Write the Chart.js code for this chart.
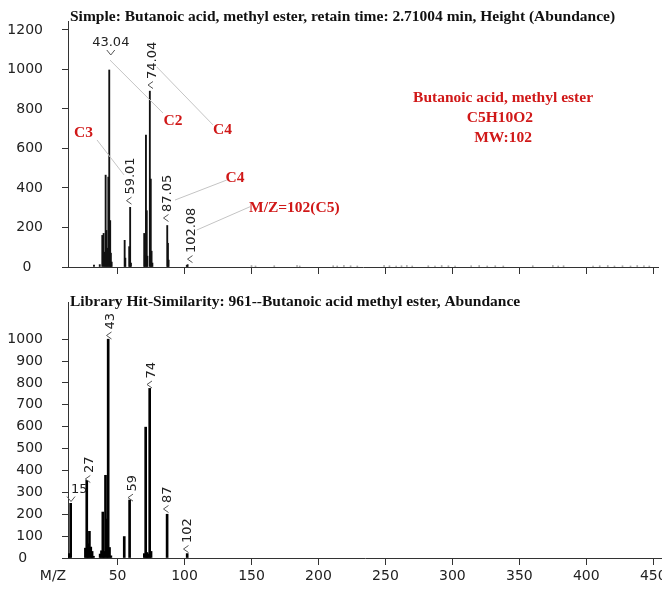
<!DOCTYPE html>
<html><head><meta charset="utf-8">
<script src="https://cdn.jsdelivr.net/npm/chart.js@4.4.0/dist/chart.umd.min.js"></script>
<style>
html,body{margin:0;padding:0;background:#fff;}
#wrap{position:relative;width:662px;height:592px;overflow:hidden;}
#c1{position:absolute;left:0;top:0;}
#c2{position:absolute;left:0;top:290px;}
</style></head><body>
<div id="wrap">
<canvas id="c1" width="662" height="290" style="width:662px;height:290px"></canvas>
<canvas id="c2" width="662" height="302" style="width:662px;height:302px"></canvas>
</div>
<script>
// ---------- data ----------
const sampleMz    = [32.4, 36.7, 38.6, 39.6, 40.3, 41.1, 41.7, 42.4, 43.1, 43.8, 44.5, 45.0, 45.6,
                     55.3, 55.8, 58.7, 59.4, 60.0,
                     69.9, 70.4, 71.2, 71.8, 72.3, 74.1, 74.8, 75.4, 76.0,
                     87.1, 87.6, 88.1, 101.7, 102.3];
const sampleAbund = [10, 12, 160, 170, 75, 465, 185, 95, 455, 997, 235, 70, 25,
                     135, 45, 103, 302, 20,
                     170, 60, 668, 285, 55, 890, 445, 80, 20,
                     210, 120, 35, 8, 12];
const noiseMz     = [150, 153, 167, 184, 186, 211, 214, 219, 224, 229, 249, 253, 258, 262, 266, 270,
                     282, 287, 292, 297, 302, 314, 320, 326, 332, 338, 360, 375, 379, 383,
                     405, 410, 416, 421, 427, 433, 438, 443, 447];
const noiseAbund  = [7, 5, 6, 7, 5, 6, 5, 7, 6, 5, 7, 6, 5, 6, 7, 5,
                     6, 5, 7, 6, 5, 6, 7, 5, 6, 5, 6, 7, 5, 6,
                     5, 6, 7, 5, 6, 5, 7, 6, 5];
const libMz       = [14, 15, 26, 27, 28, 29, 30, 31, 32, 37, 38, 39, 40, 41, 42, 43, 44, 45,
                     55, 59, 70, 71, 72, 73, 74, 75, 87, 102];
const libAbund    = [20, 250, 45, 355, 65, 122, 50, 30, 8, 18, 33, 210, 30, 378, 178, 1000, 48, 10,
                     98, 265, 20, 598, 25, 18, 775, 30, 200, 20];
const topYTicks    = [0, 200, 400, 600, 800, 1000, 1200];
const bottomYTicks = [0, 100, 200, 300, 400, 500, 600, 700, 800, 900, 1000];
const xTicks       = [50, 100, 150, 200, 250, 300, 350, 400, 450];
const topTitle    = 'Simple: Butanoic acid, methyl ester, retain time: 2.71004 min, Height (Abundance)';
const bottomTitle = 'Library Hit-Similarity: 961--Butanoic acid methyl ester, Abundance';
const xAxisName   = 'M/Z';

// ---------- annotations (anchored in data space) ----------
const topPeakLabels = [
  {text: '43.04',  x: 44.95, y: 1073, rot: false, align: 'center'},
  {text: '74.04',  x: 72.73, y: 921,  rot: true},
  {text: '59.01',  x: 56.68, y: 336,  rot: true},
  {text: '87.05',  x: 84.30, y: 248,  rot: true},
  {text: '102.08', x: 102.22, y: 40,  rot: true}
];
const topLeaders = [
  [44.36, 1047, 83.93, 779],
  [79.22, 1013, 121.26, 719],
  [34.65, 643, 54.81, 466],
  [92.89, 339, 131.49, 440],
  [109.09, 187, 148.88, 305]
];
const topRedTexts = [
  {text: 'C3', x: 24.57, y: 659, align: 'center'},
  {text: 'C2', x: 91.39, y: 719, align: 'center'},
  {text: 'C4', x: 128.35, y: 673, align: 'center'},
  {text: 'C4', x: 137.68, y: 432, align: 'center'},
  {text: 'M/Z=102(C5)', x: 148.14, y: 280, align: 'left'},
  {text: 'Butanoic acid, methyl ester', x: 337.8, y: 835, align: 'center'},
  {text: 'C5H10O2', x: 335.5, y: 734, align: 'center'},
  {text: 'MW:102', x: 337.8, y: 633, align: 'center'}
];
const bottomPeakLabels = [
  {text: '43',  x: 41.74, y: 1017, rot: true},
  {text: '74',  x: 71.98, y: 793,  rot: true},
  {text: '27',  x: 25.92, y: 361,  rot: true},
  {text: '59',  x: 57.80, y: 276,  rot: true},
  {text: '87',  x: 84.30, y: 224,  rot: true},
  {text: '102', x: 99.23, y: 41,   rot: true},
  {text: '15',  x: 15.24, y: 258,  rot: false, align: 'left'}
];

const AXIS = '#333';
const TXT = '#222';
const RED = '#d01818';
const SERIF = 'bold 15.5px "Liberation Serif", "Times New Roman", serif';
const SANS = '"DejaVu Sans", Verdana, sans-serif';

function annotPlugin(cfg) {
  return {
    id: 'annot' + cfg.key,
    afterDatasetsDraw(chart) {
      const ctx = chart.ctx, xs = chart.scales.x, ys = chart.scales.y;
      const px = v => xs.getPixelForValue(v), py = v => ys.getPixelForValue(v);
      ctx.save();
      // leader lines
      ctx.strokeStyle = '#c4c4c4'; ctx.lineWidth = 1;
      (cfg.leaders || []).forEach(l => {
        ctx.beginPath(); ctx.moveTo(px(l[0]), py(l[1])); ctx.lineTo(px(l[2]), py(l[3])); ctx.stroke();
      });
      // peak labels
      (cfg.labels || []).forEach(L => {
        const ax = px(L.x), ay = py(L.y);
        ctx.strokeStyle = '#555'; ctx.lineWidth = 1;
        ctx.beginPath();
        if (L.rot) { ctx.moveTo(ax + 5, ay - 3.5); ctx.lineTo(ax, ay); ctx.lineTo(ax + 5, ay + 3.5); }
        else { ctx.moveTo(ax - 4, ay - 5); ctx.lineTo(ax, ay); ctx.lineTo(ax + 4, ay - 5); }
        ctx.stroke();
        ctx.fillStyle = TXT; ctx.font = '13px ' + SANS;
        if (L.rot) {
          ctx.save(); ctx.translate(ax + 4.5, ay - 6); ctx.rotate(-Math.PI / 2);
          ctx.textAlign = 'left'; ctx.textBaseline = 'middle'; ctx.fillText(L.text, 0, 0);
          ctx.restore();
        } else {
          ctx.textAlign = L.align; ctx.textBaseline = 'alphabetic';
          ctx.fillText(L.text, ax, ay - 9);
        }
      });
      // red texts
      ctx.fillStyle = RED; ctx.font = SERIF; ctx.textBaseline = 'alphabetic';
      (cfg.red || []).forEach(T => { ctx.textAlign = T.align; ctx.fillText(T.text, px(T.x), py(T.y)); });
      // title
      ctx.fillStyle = '#111'; ctx.font = SERIF; ctx.textAlign = 'left'; ctx.textBaseline = 'alphabetic';
      ctx.fillText(cfg.title, 70, cfg.titleY);
      // axis name
      if (cfg.axisName) {
        ctx.fillStyle = TXT; ctx.font = '14px ' + SANS; ctx.textAlign = 'center'; ctx.textBaseline = 'middle';
        ctx.fillText(cfg.axisName, 53, chart.chartArea.bottom + 7 + 3 + 8.4);
      }
      ctx.restore();
    }
  };
}

function makeChart(canvas, o) {
  const datasets = o.series.map(s => ({
    data: s.mz.map((m, i) => ({x: m, y: s.ab[i]})),
    backgroundColor: s.color, borderWidth: 0, barThickness: s.thick, grouped: false
  }));
  return new Chart(canvas, {
    type: 'bar',
    data: {datasets},
    options: {
      responsive: false, animation: false, devicePixelRatio: 1, events: [],
      layout: {padding: {top: o.padTop, right: o.padRight, left: 0, bottom: 0}},
      plugins: {legend: {display: false}, tooltip: {enabled: false}, title: {display: false}},
      scales: {
        x: {
          type: 'linear', min: 13, max: o.xMax, offset: false,
          grid: {display: true, drawOnChartArea: false, drawTicks: true, tickLength: 7, tickColor: AXIS, offset: false},
          border: {display: true, color: AXIS, width: 1},
          ticks: {display: o.xLabels, font: {family: SANS, size: 14}, color: TXT, padding: 3, maxRotation: 0, autoSkip: false},
          afterBuildTicks: s => { s.ticks = xTicks.map(v => ({value: v})); },
          afterFit: s => { s.height = o.xHeight; s.paddingLeft = 0; s.paddingRight = 0; }
        },
        y: {
          type: 'linear', min: 0, max: o.yMax,
          grid: {display: true, drawOnChartArea: false, drawTicks: true, tickLength: 6, tickColor: AXIS},
          border: {display: true, color: AXIS, width: 1},
          ticks: {font: {family: SANS, size: 14}, color: TXT, padding: 19, autoSkip: false,
                  callback: v => v === 0 ? '0' + o.zeroPad : String(v)},
          afterBuildTicks: s => { s.ticks = o.yTicks.map(v => ({value: v})); },
          afterFit: s => { s.width = 68; s.paddingTop = 0; s.paddingBottom = 0; }
        }
      }
    },
    plugins: [annotPlugin(o.annot)]
  });
}

makeChart(document.getElementById('c1'), {
  series: [
    {mz: noiseMz, ab: noiseAbund, color: '#9a9a9a', thick: 1},
    {mz: sampleMz, ab: sampleAbund, color: '#111', thick: 1.2}
  ],
  xMax: 453.5, yMax: 1245, yTicks: topYTicks, padTop: 21, padRight: 4, xHeight: 23,
  xLabels: false, zeroPad: '\u2007\u2009',
  annot: {key: 'top', labels: topPeakLabels, leaders: topLeaders, red: topRedTexts, title: topTitle, titleY: 21}
});

makeChart(document.getElementById('c2'), {
  series: [{mz: libMz, ab: libAbund, color: '#000', thick: 2}],
  xMax: 456.5, yMax: 1170, yTicks: bottomYTicks, padTop: 12, padRight: 0, xHeight: 34,
  xLabels: true, zeroPad: '\u2007\u2002',
  annot: {key: 'bot', labels: bottomPeakLabels, title: bottomTitle, titleY: 16, axisName: xAxisName}
});
</script>
</body></html>
